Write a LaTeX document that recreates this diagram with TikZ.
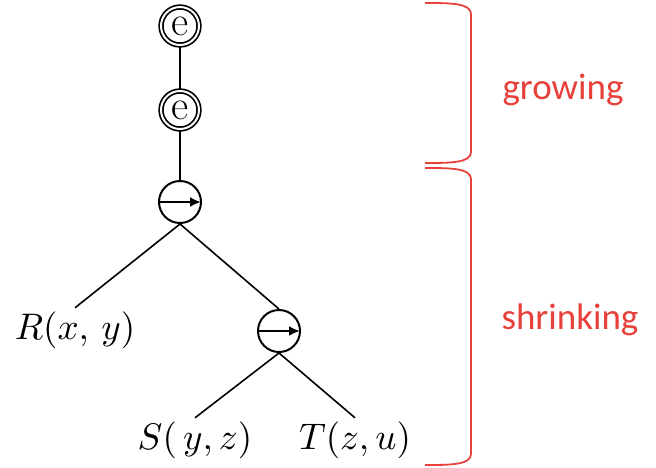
\documentclass[tikz,border=0pt]{standalone}
\usepackage{fontspec}
\newfontfamily\labelfont{Carlito}
\usetikzlibrary{arrows.meta}
\definecolor{bracketred}{RGB}{232,64,58}

\begin{document}
\begin{tikzpicture}[
    x=1pt, y=-1pt,
    enode/.style={draw, circle, double, line width=1.7pt, double distance=2pt, inner sep=0pt, minimum size=38pt, font=\fontsize{42}{42}\selectfont},
    anode/.style={draw, circle, line width=2pt, inner sep=0pt, minimum size=42pt,
        path picture={\draw[line width=2.2pt, -{Latex[length=11pt,width=10pt]}] (path picture bounding box.west) -- (path picture bounding box.east);}},
    atom/.style={inner sep=0.8pt, scale=3.7},
    edge/.style={line width=1.6pt},
    brace/.style={bracketred, line width=1.8pt},
    tag/.style={text=bracketred, font=\labelfont\fontsize{37}{40}\selectfont}
]
\useasboundingbox (0,0) rectangle (656,467);

% Growing part
\node[enode] (e1) at (180, 26) {e};
\node[enode] (e2) at (180, 110) {e};

% Join nodes
\node[anode] (c1) at (180, 202) {};
\node[anode] (c2) at (279, 331) {};

% Atoms
\node[atom] (R) at (75, 330) {$R(x,\,y)$};
\node[atom] (S) at (195, 440) {$S(\,y,z)$};
\node[atom] (T) at (355, 440) {$T(z,u)$};

% Edges
\draw[edge] (e1) -- (e2);
\draw[edge] (e2) -- (c1);
\draw[edge] (c1.south) -- (R.north);
\draw[edge] (c1.south) -- (c2.north);
\draw[edge] (c2.south) -- (S.north);
\draw[edge] (c2.south) -- (T.north);

% Brackets
\draw[brace] (425, 3) .. controls (450, 3) and (471, 3) .. (471, 14) -- (471, 152) .. controls (471, 163) and (450, 163) .. (425, 163);
\draw[brace] (425, 168) .. controls (450, 168) and (471, 168) .. (471, 179) -- (471, 454) .. controls (471, 465) and (450, 465) .. (425, 465);

% Labels
\node[tag] (grow) at (563, 90) {growing};
\node[tag] (shrink) at (570, 320) {shrinking};

\end{tikzpicture}
\end{document}
